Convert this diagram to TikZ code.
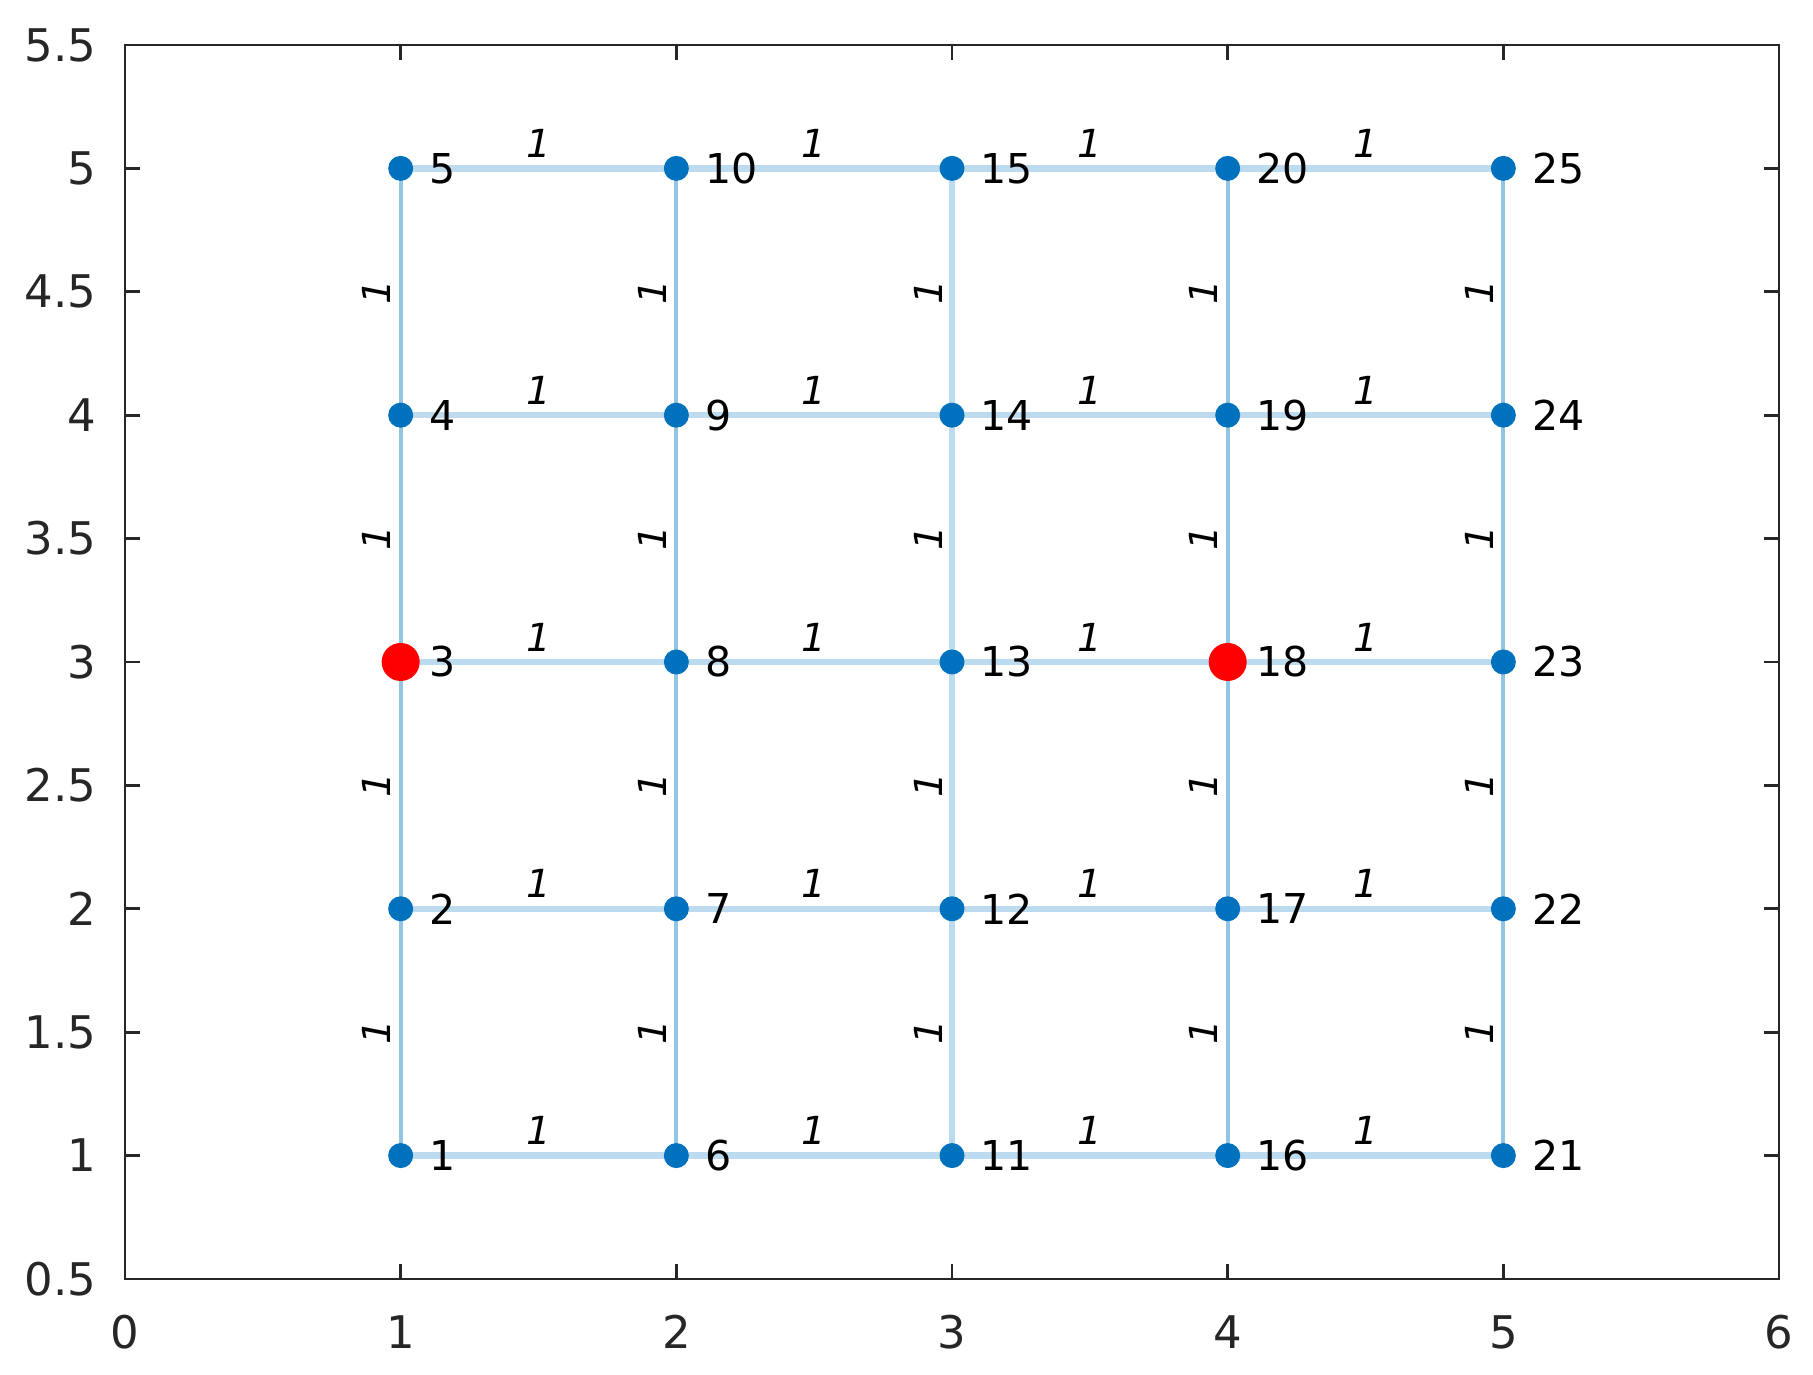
\documentclass[tikz,border=0pt]{standalone}
\usepackage{fontspec}
\setmainfont{DejaVu Sans}
\definecolor{axgray}{RGB}{38,38,38}
\definecolor{nodeblue}{RGB}{0,114,189}
\definecolor{edgethick}{RGB}{189,219,238}
\definecolor{edgethin}{RGB}{146,196,228}
\tikzset{
  vtx/.style={circle,fill=nodeblue,draw=none,inner sep=0pt,minimum size=0.25cm},
  hot/.style={circle,fill=red,draw=none,inner sep=0pt,minimum size=0.38cm},
  vlbl/.style={anchor=west,inner sep=0pt,text=black,font=\fontsize{11.7}{12}\selectfont},
  elbl/.style={inner sep=0pt,text=black,font=\fontsize{11}{12}\selectfont\itshape},
  thickedge/.style={draw=edgethick,line width=0.065cm},
  thinedge/.style={draw=edgethin,line width=0.04cm},
  ticklbl/.style={inner sep=0pt,text=axgray,font=\fontsize{12.8}{14}\selectfont},
  axline/.style={draw=axgray,line width=0.027cm}
}
\begin{document}
\begin{tikzpicture}
\useasboundingbox[fill=white] (0,0) rectangle (18.13,13.75);
\begin{scope}[shift={(1.25,-0.274)},x=2.7567cm,y=2.468cm]
  % axes box
  \draw[axline] (0,0.5) rectangle (6,5.5);
  \foreach \t in {0,...,6}{
    \draw[axline] (\t,0.5) -- ++(0,0.15cm);
    \draw[axline] (\t,5.5) -- ++(0,-0.15cm);
    \node[ticklbl] at ([yshift=-0.53cm]\t,0.5) {\t};
  }
  \foreach \t in {0.5,1,1.5,2,2.5,3,3.5,4,4.5,5,5.5}{
    \draw[axline] (0,\t) -- ++(0.15cm,0);
    \draw[axline] (6,\t) -- ++(-0.15cm,0);
  }
  \foreach \t/\s in {0.5/0.5,1/1,1.5/1.5,2/2,2.5/2.5,3/3,3.5/3.5,4/4,4.5/4.5,5/5,5.5/5.5}{
    \node[ticklbl,anchor=east] at ([xshift=-0.28cm]0,\t) {\s};
  }
  % node coordinates
  \foreach \k in {1,...,25}{
    \pgfmathtruncatemacro{\cx}{floor((\k-1)/5)+1}
    \pgfmathtruncatemacro{\cy}{mod(\k-1,5)+1}
    \coordinate (n\k) at (\cx,\cy);
  }
  % vertical edges
  \foreach \c in {1,2,4,5}{
    \foreach \r in {1,...,4}{
      \pgfmathtruncatemacro{\a}{(\c-1)*5+\r}
      \pgfmathtruncatemacro{\b}{\a+1}
      \draw[thinedge] (n\a) -- (n\b) node[elbl,midway,rotate=90,yshift=0.24cm] {1};
    }
  }
  \foreach \r in {1,...,4}{
    \pgfmathtruncatemacro{\a}{10+\r}
    \pgfmathtruncatemacro{\b}{\a+1}
    \draw[thickedge] (n\a) -- (n\b) node[elbl,midway,rotate=90,yshift=0.24cm] {1};
  }
  % horizontal edges
  \foreach \c in {1,...,4}{
    \foreach \r in {1,...,5}{
      \pgfmathtruncatemacro{\a}{(\c-1)*5+\r}
      \pgfmathtruncatemacro{\b}{\a+5}
      \draw[thickedge] (n\a) -- (n\b) node[elbl,midway,yshift=0.25cm] {1};
    }
  }
  % vertices
  \foreach \k in {1,2,4,5,6,7,8,9,10,11,12,13,14,15,16,17,19,20,21,22,23,24,25}{
    \node[vtx] (v\k) at (n\k) {};
  }
  \node[hot] (v3) at (n3) {};
  \node[hot] (v18) at (n18) {};
  \foreach \k in {1,...,25}{
    \node[vlbl] (t\k) at ([xshift=0.28cm]n\k) {\k};
  }
\end{scope}
\end{tikzpicture}
\end{document}
